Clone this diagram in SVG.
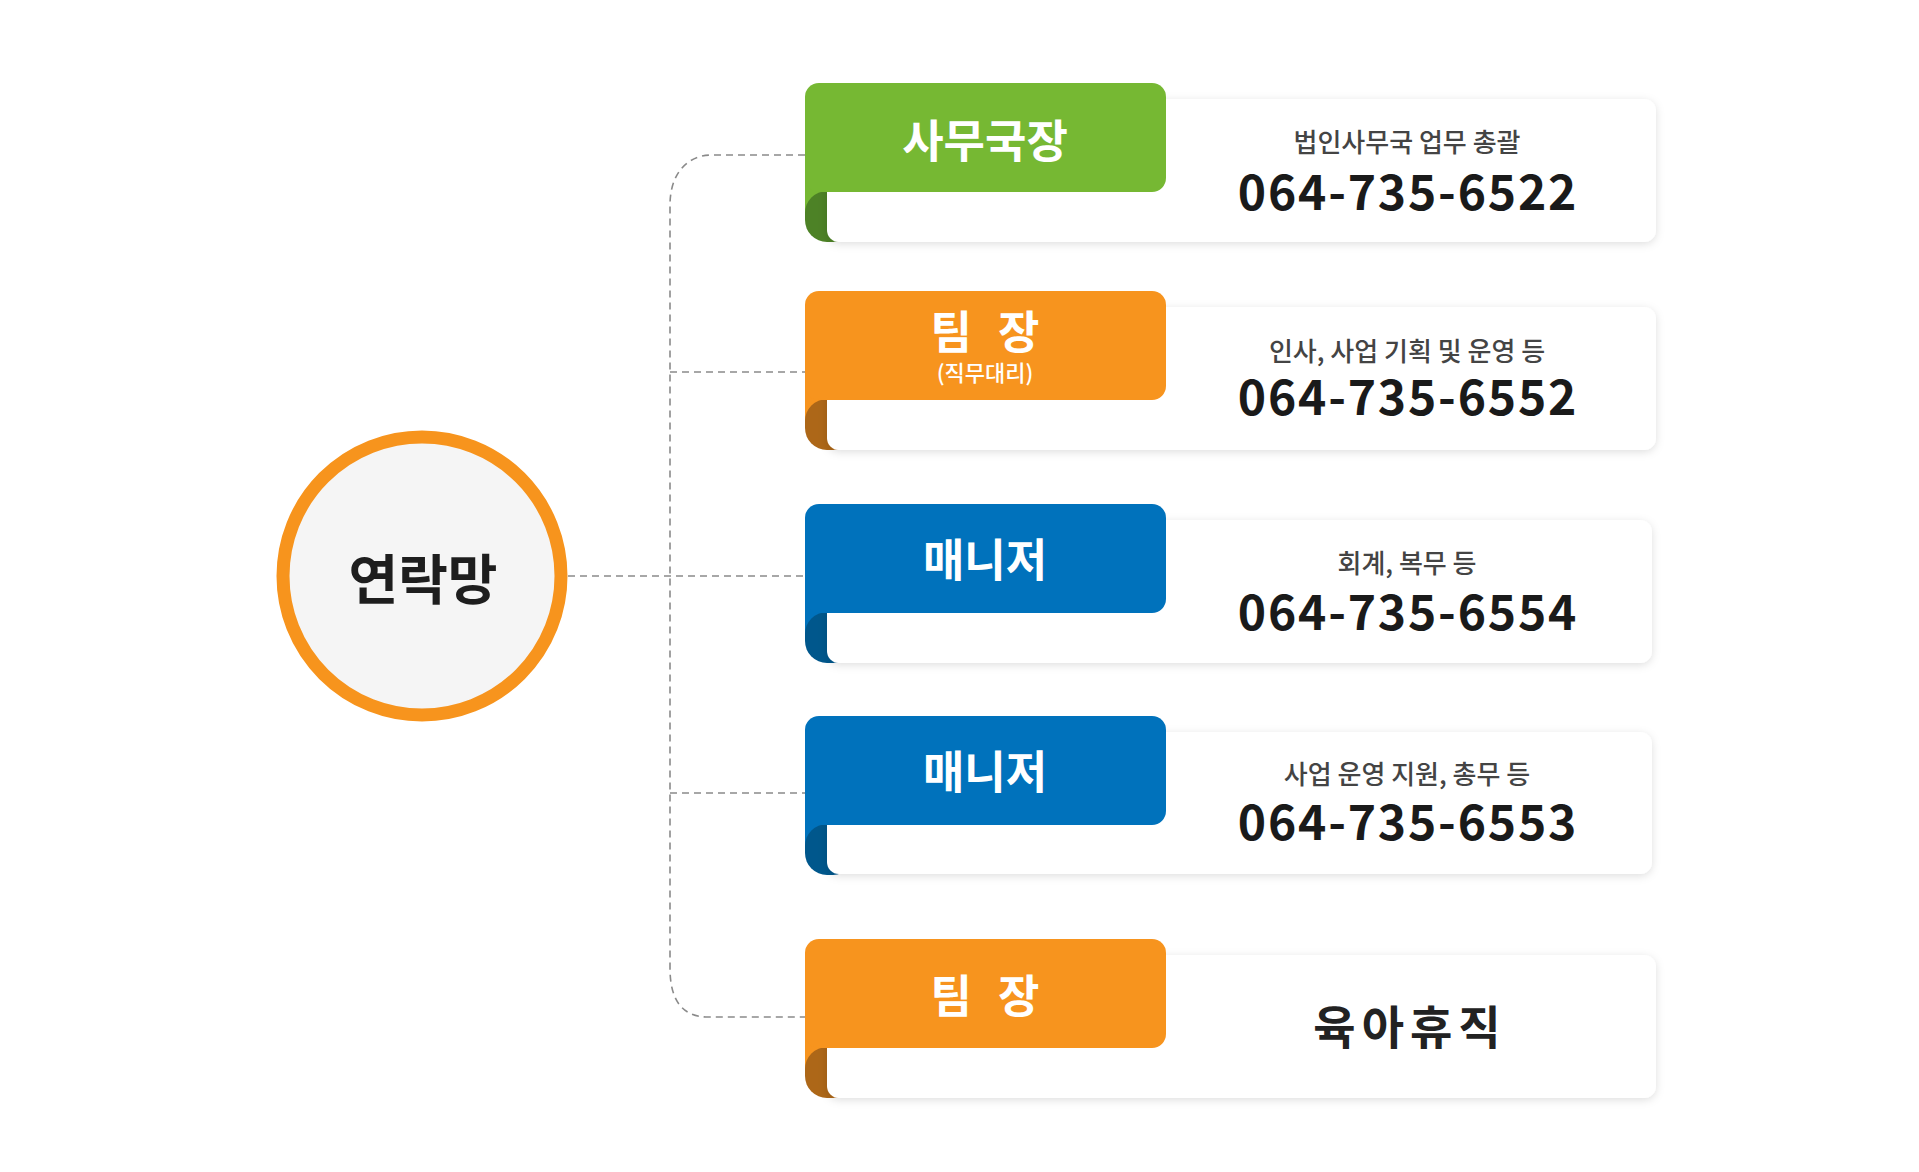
<svg xmlns="http://www.w3.org/2000/svg" width="1919" height="1172" viewBox="0 0 1919 1172">
<defs>
<filter id="sh" x="-5%" y="-20%" width="110%" height="150%">
<feDropShadow dx="0" dy="2" stdDeviation="4" flood-color="#000" flood-opacity="0.13"/>
</filter>
</defs>
<style>
.card{fill:#fff;filter:url(#sh)}
.title{font-family:"Noto Sans CJK KR","Noto Sans",sans-serif;font-weight:700;font-size:45px;fill:#fff;text-anchor:middle}
.sp{letter-spacing:8px}
.sub{font-family:"Noto Sans CJK KR","Noto Sans",sans-serif;font-weight:500;font-size:22px;fill:#fff;text-anchor:middle}
.desc{font-family:"Noto Sans CJK KR","Noto Sans",sans-serif;font-weight:500;font-size:26px;fill:#444;text-anchor:middle}
.phone{font-family:"Noto Sans CJK KR","Noto Sans",sans-serif;font-weight:700;font-size:48px;fill:#1a1a1a;text-anchor:middle;letter-spacing:1.8px}
.big{font-family:"Noto Sans CJK KR","Noto Sans",sans-serif;font-weight:700;font-size:46px;fill:#222;text-anchor:middle;letter-spacing:6px}
.conn{fill:none;stroke:#8a8a8a;stroke-width:1.6;stroke-dasharray:7 5}
.g{fill:#76b833}.gd{fill:#4d8226}
.o{fill:#f7941e}.od{fill:#ad6718}
.b{fill:#0072bc}.bd{fill:#00578c}
</style>
<rect width="1919" height="1172" fill="#fff"/>

<g id="connectors">
<path class="conn" d="M805 155 H712 C686 155 670 175 670 205 V968 C670 1000 682 1017 708 1017 H805"/>
<path class="conn" d="M670 372 H805"/>
<path class="conn" d="M568 576 H805"/>
<path class="conn" d="M670 793 H805"/>
</g>

<g id="node-center">
<circle cx="422" cy="576" r="139" fill="#f5f5f5" stroke="#f7941d" stroke-width="13"/>
<text x="423" y="600" font-family="&quot;Noto Sans CJK KR&quot;,sans-serif" font-weight="700" font-size="54" fill="#1e1e1e" text-anchor="middle">연락망</text>
</g>

<g id="node-1">
<rect class="g" x="805" y="178" width="24" height="40"/>
<rect class="gd" x="805" y="191" width="50" height="51" rx="22"/>
<rect class="card" x="827" y="99" width="829" height="143" rx="12"/>
<rect class="g" x="805" y="83" width="361" height="109" rx="14"/>
<text class="title" x="985" y="158">사무국장</text>
<text class="desc" x="1407" y="152">법인사무국 업무 총괄</text>
<text class="phone" x="1408" y="210">064-735-6522</text>
</g>

<g id="node-2">
<rect class="o" x="805" y="386" width="24" height="40"/>
<rect class="od" x="805" y="399" width="50" height="51" rx="22"/>
<rect class="card" x="827" y="307" width="829" height="143" rx="12"/>
<rect class="o" x="805" y="291" width="361" height="109" rx="14"/>
<text class="title sp" x="989" y="349">팀 장</text>
<text class="sub" x="985" y="381">(직무대리)</text>
<text class="desc" x="1407" y="361">인사, 사업 기획 및 운영 등</text>
<text class="phone" x="1408" y="415">064-735-6552</text>
</g>

<g id="node-3">
<rect class="b" x="805" y="599" width="24" height="40"/>
<rect class="bd" x="805" y="612" width="50" height="51" rx="22"/>
<rect class="card" x="827" y="520" width="825" height="143" rx="12"/>
<rect class="b" x="805" y="504" width="361" height="109" rx="14"/>
<text class="title" x="985" y="577">매니저</text>
<text class="desc" x="1407" y="573">회계, 복무 등</text>
<text class="phone" x="1408" y="630">064-735-6554</text>
</g>

<g id="node-4">
<rect class="b" x="805" y="811" width="24" height="40"/>
<rect class="bd" x="805" y="824" width="50" height="51" rx="22"/>
<rect class="card" x="827" y="732" width="825" height="142" rx="12"/>
<rect class="b" x="805" y="716" width="361" height="109" rx="14"/>
<text class="title" x="985" y="789">매니저</text>
<text class="desc" x="1407" y="784">사업 운영 지원, 총무 등</text>
<text class="phone" x="1408" y="840">064-735-6553</text>
</g>

<g id="node-5">
<rect class="o" x="805" y="1034" width="24" height="40"/>
<rect class="od" x="805" y="1047" width="50" height="51" rx="22"/>
<rect class="card" x="827" y="955" width="829" height="143" rx="12"/>
<rect class="o" x="805" y="939" width="361" height="109" rx="14"/>
<text class="title sp" x="989" y="1013">팀 장</text>
<text class="big" x="1410" y="1044">육아휴직</text>
</g>
</svg>
